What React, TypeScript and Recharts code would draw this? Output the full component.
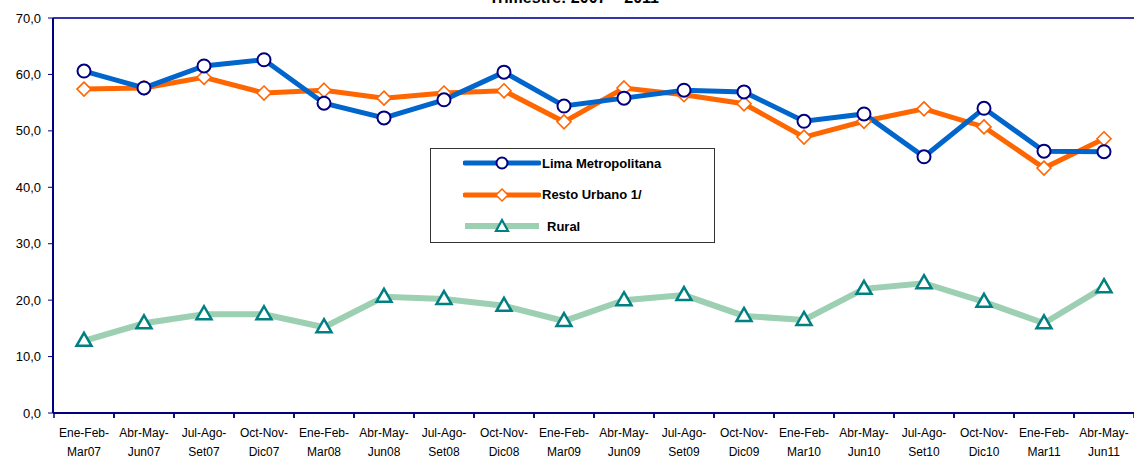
import React from "react";
import {
  LineChart,
  Line,
  XAxis,
  YAxis,
  ReferenceLine,
} from "recharts";

const quarters = [
  "Ene-Feb-|Mar07", "Abr-May-|Jun07", "Jul-Ago-|Set07", "Oct-Nov-|Dic07",
  "Ene-Feb-|Mar08", "Abr-May-|Jun08", "Jul-Ago-|Set08", "Oct-Nov-|Dic08",
  "Ene-Feb-|Mar09", "Abr-May-|Jun09", "Jul-Ago-|Set09", "Oct-Nov-|Dic09",
  "Ene-Feb-|Mar10", "Abr-May-|Jun10", "Jul-Ago-|Set10", "Oct-Nov-|Dic10",
  "Ene-Feb-|Mar11", "Abr-May-|Jun11",
];

const lima = [60.6, 57.6, 61.5, 62.6, 54.9, 52.3, 55.5, 60.4, 54.4, 55.8, 57.2, 56.9, 51.7, 53.0, 45.4, 54.0, 46.4, 46.3];
const restoUrbano = [57.4, 57.6, 59.5, 56.7, 57.2, 55.8, 56.7, 57.1, 51.6, 57.6, 56.4, 54.8, 48.9, 51.7, 53.9, 50.7, 43.4, 48.6];
const rural = [12.8, 15.9, 17.5, 17.5, 15.2, 20.6, 20.2, 19.0, 16.3, 20.0, 20.9, 17.2, 16.5, 22.0, 23.0, 19.7, 15.9, 22.3];

const yTicks = [0, 10, 20, 30, 40, 50, 60, 70];
const seriesNames = ["Lima Metropolitana", "Resto Urbano 1/", "Rural"];
const title = "Trimestre: 2007 \u2013 2011";

const data = quarters.map((q, i) => ({
  q,
  lima: lima[i],
  resto: restoUrbano[i],
  rural: rural[i],
}));

const BLUE = "#0066CC";
const NAVY = "#000080";
const ORANGE = "#FF6600";
const GREEN = "#9DCFB3";
const TEAL = "#008080";
const FONT = "'Liberation Sans', Arial, sans-serif";

const Circle = (p: any) => (
  <circle key={p.index} cx={p.cx} cy={p.cy} r={6.5} fill="#fff" stroke={NAVY} strokeWidth={2} />
);
const Diamond = (p: any) => (
  <path
    key={p.index}
    d={`M${p.cx},${p.cy - 7}L${p.cx + 7},${p.cy}L${p.cx},${p.cy + 7}L${p.cx - 7},${p.cy}Z`}
    fill="#fff"
    stroke={ORANGE}
    strokeWidth={1.6}
  />
);
const Triangle = (p: any) => (
  <path
    key={p.index}
    d={`M${p.cx},${p.cy - 8}L${p.cx + 7.5},${p.cy + 5}L${p.cx - 7.5},${p.cy + 5}Z`}
    fill="#fff"
    stroke={TEAL}
    strokeWidth={2.5}
    strokeLinejoin="miter"
  />
);

const QuarterTick = (p: any) => {
  const [a, b] = String(p.payload.value).split("|");
  return (
    <g>
      <line x1={p.x - 30} x2={p.x - 30} y1={p.y - 5} y2={p.y} stroke={NAVY} strokeWidth={1.5} />
      <line x1={p.x + 30} x2={p.x + 30} y1={p.y - 5} y2={p.y} stroke={NAVY} strokeWidth={1.5} />
      <text x={p.x} y={p.y} textAnchor="middle" fontSize={12} fontFamily={FONT} fill="#000">
        <tspan x={p.x} dy={19}>{a}</tspan>
        <tspan x={p.x} dy={19}>{b}</tspan>
      </text>
    </g>
  );
};

function LegendSample({ kind }: { kind: number }) {
  return (
    <svg width={78} height={16} style={{ display: "block" }}>
      {kind === 0 && (
        <>
          <line x1={2} x2={76} y1={8} y2={8} stroke={BLUE} strokeWidth={5} strokeLinecap="round" />
          <circle cx={39} cy={8} r={5.5} fill="#fff" stroke={NAVY} strokeWidth={2} />
        </>
      )}
      {kind === 1 && (
        <>
          <line x1={2} x2={76} y1={8} y2={8} stroke={ORANGE} strokeWidth={5} strokeLinecap="round" />
          <path d="M39,2L45,8L39,14L33,8Z" fill="#fff" stroke={ORANGE} strokeWidth={1.5} />
        </>
      )}
      {kind === 2 && (
        <>
          <line x1={2} x2={76} y1={8} y2={8} stroke={GREEN} strokeWidth={6} />
          <path d="M39,2L45,13L33,13Z" fill="#fff" stroke={TEAL} strokeWidth={2.2} />
        </>
      )}
    </svg>
  );
}

export default function App() {
  return (
    <div style={{ position: "relative", width: 1134, height: 463, overflow: "hidden", background: "#fff" }}>
      <style>{`body{margin:0}`}</style>
      <div
        style={{
          position: "absolute",
          top: -10,
          left: 0,
          width: 1148,
          textAlign: "center",
          fontFamily: FONT,
          fontWeight: "bold",
          fontSize: 16,
          lineHeight: "16px",
        }}
      >
        {title}
      </div>
      <LineChart width={1134} height={463} data={data} margin={{ top: 18, right: 0, bottom: 0, left: 0 }}>
        <XAxis
          dataKey="q"
          interval={0}
          padding={{ left: 31, right: 30 }}
          height={50}
          tickSize={5}
          tickMargin={0}
          tickLine={false}
          axisLine={{ stroke: NAVY, strokeWidth: 2 }}
          tick={<QuarterTick />}
        />
        <YAxis
          width={53}
          domain={[0, 70]}
          ticks={yTicks}
          interval={0}
          tickSize={5}
          tickMargin={7}
          axisLine={{ stroke: NAVY, strokeWidth: 2 }}
          tickLine={{ stroke: NAVY }}
          tick={{ fill: "#000", fontSize: 13, fontFamily: FONT }}
          tickFormatter={(v: number) => v.toFixed(1).replace(".", ",")}
        />
        <ReferenceLine y={70} stroke="#3333AA" strokeWidth={2} />
        <Line
          dataKey="rural"
          stroke={GREEN}
          strokeWidth={6}
          dot={Triangle}
          activeDot={false}
          isAnimationActive={false}
        />
        <Line
          dataKey="resto"
          stroke={ORANGE}
          strokeWidth={5}
          dot={Diamond}
          activeDot={false}
          isAnimationActive={false}
        />
        <Line
          dataKey="lima"
          stroke={BLUE}
          strokeWidth={5}
          dot={Circle}
          activeDot={false}
          isAnimationActive={false}
        />
      </LineChart>
      <div
        style={{
          position: "absolute",
          left: 430,
          top: 148,
          width: 283,
          height: 93,
          border: "1px solid #333",
          background: "#fff",
          fontFamily: FONT,
          fontWeight: "bold",
          fontSize: 13,
          boxSizing: "content-box",
        }}
      >
        {seriesNames.map((name, i) => (
          <div
            key={name}
            style={{ position: "absolute", left: 32, top: 6 + i * 31.5, display: "flex", alignItems: "center", height: 16 }}
          >
            <LegendSample kind={i} />
            <span style={{ marginLeft: i === 2 ? 6 : 1 }}>{name}</span>
          </div>
        ))}
      </div>
    </div>
  );
}
